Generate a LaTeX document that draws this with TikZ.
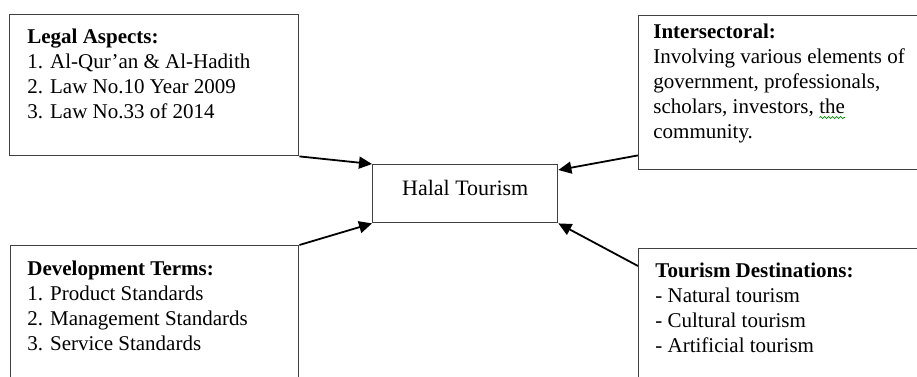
\documentclass[tikz,border=0pt]{standalone}
\usepackage{fontspec}
\setmainfont{Liberation Serif}
\usepackage{xcolor}
\usepackage{tikz}
\usetikzlibrary{arrows.meta,decorations.pathmorphing}

% word with a small green wavy mark under it
\newcommand{\spellmark}[1]{\tikz[baseline=(w.base)]{%
    \node[anchor=base, inner sep=0pt, outer sep=0pt] (w) at (0,0) {#1};
    \draw[green!55!black, line width=0.35pt, decorate, decoration={snake, amplitude=0.5pt, segment length=2pt}]
        ([yshift=-1.8pt]w.base west) -- ([yshift=-1.8pt]w.base east);}}

\begin{document}
\begin{tikzpicture}[
    x=0.5pt, y=-0.5pt,
    box/.style={rectangle, draw=black!75, line width=0.7pt, anchor=north west, inner sep=0pt},
    txt/.style={anchor=north west, inner sep=0pt, align=left, font=\fontsize{10.5}{12.5}\selectfont},
    arrow/.style={-{Triangle[length=6.5pt,width=6pt]}, line width=0.9pt}
]
    \clip (0,0) rectangle (917,376);

    \node[box, minimum width=144.5pt, minimum height=70.5pt] (legal) at (9,14) {};
    \node[box, minimum width=143.5pt, minimum height=77pt] (inter) at (638,15) {};
    \node[box, minimum width=144pt, minimum height=70pt] (dev) at (10,245) {};
    \node[box, minimum width=143.5pt, minimum height=68.5pt] (dest) at (638,248) {};
    \node[box, minimum width=92.5pt, minimum height=29pt, text depth=6pt,
          font=\fontsize{11}{12.5}\selectfont] (halal) at (372,164) {Halal Tourism};

    \node[txt] (legaltxt) at (27,29) {\textbf{Legal Aspects:}\\1. Al-Qur'an \& Al-Hadith\\2. Law No.10 Year 2009\\3. Law No.33 of 2014};
    \node[txt] (intertxt) at (653,24) {\textbf{Intersectoral:}\\Involving various elements of\\government, professionals,\\scholars, investors, \spellmark{the}\\community.};
    \node[txt] (devtxt) at (27,261) {\textbf{Development Terms:}\\1. Product Standards\\2. Management Standards\\3. Service Standards};
    \node[txt] (desttxt) at (655,263) {\textbf{Tourism Destinations:}\\- Natural tourism\\- Cultural tourism\\- Artificial tourism};

    \draw[arrow] (legal.south east) -- (halal.north west);
    \draw[arrow] (dev.north east) -- (halal.south west);
    \draw[arrow] ([yshift=7.5pt]inter.south west) -- ([yshift=-3pt]halal.north east);
    \draw[arrow] ([yshift=-9pt]dest.north west) -- (halal.south east);
\end{tikzpicture}
\end{document}
